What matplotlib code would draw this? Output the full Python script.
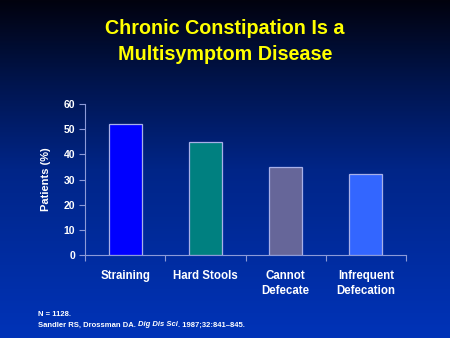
import numpy as np
import matplotlib
matplotlib.use("Agg")
import matplotlib.pyplot as plt
from matplotlib.colors import LinearSegmentedColormap

categories = ["Straining", "Hard Stools", "Cannot\nDefecate", "Infrequent\nDefecation"]
patients_pct = [52, 45, 35, 32]
bar_colors = ["#0000FF", "#008080", "#666699", "#3366FF"]
y_ticks = [0, 10, 20, 30, 40, 50, 60]

plt.rcParams['font.family'] = ['Liberation Sans', 'DejaVu Sans']
plt.rcParams['font.weight'] = 'bold'

fig = plt.figure(figsize=(4.5, 3.38), dpi=100)

# slide background: dark at the top fading to blue at the bottom
bg = fig.add_axes([0, 0, 1, 1])
bg_cmap = LinearSegmentedColormap.from_list(
    "slide", [(0.0, "#02020E"), (0.25, "#00154F"), (0.5, "#002587"), (1.0, "#0033B8")])
grad = np.linspace(0, 1, 256).reshape(-1, 1)
bg.imshow(grad, aspect="auto", cmap=bg_cmap, extent=[0, 1, 0, 1], origin="upper")
bg.set_axis_off()

fig.text(0.5, 1 - 29 / 338, "Chronic Constipation Is a", ha="center", va="center",
         color="#FFFF00", fontsize=14.2, fontweight="bold")
fig.text(0.5, 1 - 54 / 338, "Multisymptom Disease", ha="center", va="center",
         color="#FFFF00", fontsize=14.2, fontweight="bold")

# plot area in pixels: x 85..406, y 104..255 (of 450x338)
ax = fig.add_axes([85 / 450, 1 - 255 / 338, (406 - 85) / 450, (255 - 104) / 338])
ax.set_facecolor("none")
x = np.arange(len(categories))
ax.bar(x, patients_pct, width=0.41, color=bar_colors, edgecolor="#A8B0E8", linewidth=0.9, zorder=3)

ax.set_xlim(-0.5, len(categories) - 0.5)
ax.set_ylim(0, 60)
ax.set_yticks(y_ticks)
ax.set_yticklabels([str(t) for t in y_ticks], color="white", fontsize=7.5, fontweight="bold")
ax.set_xticks(x)
ax.set_xticklabels(categories, color="white", fontsize=8.3, fontweight="bold", linespacing=1.35)
ax.tick_params(axis="x", length=0, pad=11)
ax.tick_params(axis="y", length=4, color="#8C9AD8", width=0.8, pad=3)
# category boundary ticks on the x axis
ax.set_xticks(np.arange(-0.5, len(categories)), minor=True)
ax.tick_params(axis="x", which="minor", length=4, color="#8C9AD8", width=0.8)

for side in ["top", "right"]:
    ax.spines[side].set_visible(False)
for side in ["left", "bottom"]:
    ax.spines[side].set_color("#8C9AD8")
    ax.spines[side].set_linewidth(0.8)

ax.set_ylabel("Patients (%)", color="white", fontsize=8, fontweight="bold", labelpad=9)

# footnote, with the journal name in italics
foot_size = 5.5
fig.text(38 / 450, 1 - 315 / 338, "N = 1128.", color="white", fontsize=foot_size,
         fontweight="bold", va="center")
pieces = [("Sandler RS, Drossman DA. ", "normal"), ("Dig Dis Sci", "italic"),
          (". 1987;32:841–845.", "normal")]
renderer = fig.canvas.get_renderer()
x_pos = 38 / 450
for text, style in pieces:
    t = fig.text(x_pos, 1 - 325 / 338, text, color="white", fontsize=foot_size,
                 fontweight="bold", fontstyle=style, va="center")
    bb = t.get_window_extent(renderer)
    x_pos += bb.width / fig.bbox.width

fig.savefig("out.png", dpi=100)
